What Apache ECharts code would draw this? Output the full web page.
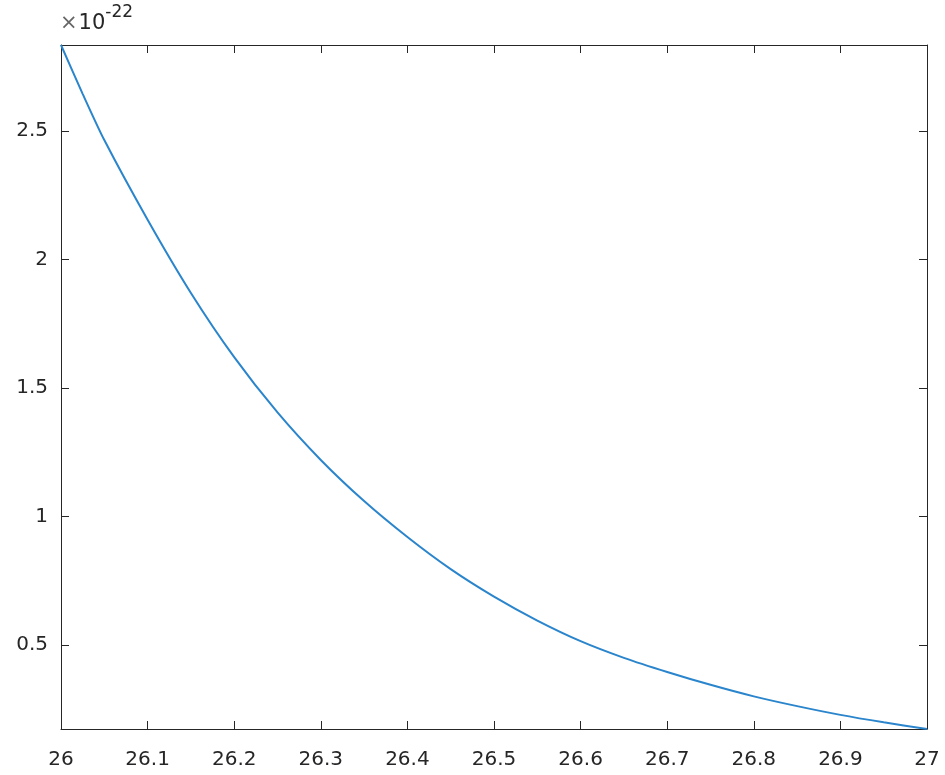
<!DOCTYPE html>
<html>
<head>
<meta charset="utf-8">
<script src="https://cdn.jsdelivr.net/npm/echarts@6/dist/echarts.min.js"></script>
<style>html,body{margin:0;padding:0;background:#fff;}#c{width:945px;height:775px;}</style>
</head>
<body>
<div id="c"></div>
<script>
// values in units of 1e-22
const xValues = [26.00, 26.025, 26.05, 26.10, 26.15, 26.20, 26.25, 26.30, 26.35, 26.40, 26.45, 26.50,
                 26.55, 26.60, 26.65, 26.70, 26.75, 26.80, 26.85, 26.90, 26.95, 27.00];
const yValues = [2.835, 2.645, 2.465, 2.155, 1.87, 1.62, 1.405, 1.22, 1.06, 0.92, 0.795, 0.688,
                 0.595, 0.515, 0.45, 0.395, 0.345, 0.300, 0.262, 0.228, 0.199, 0.173];
const xTicks = [26, 26.1, 26.2, 26.3, 26.4, 26.5, 26.6, 26.7, 26.8, 26.9, 27];
const yTicks = [0.5, 1, 1.5, 2, 2.5];
const yMin = 0.173, yMax = 2.835;
const exponentText = '-22';

const chart = echarts.init(document.getElementById('c'), null, {renderer: 'canvas'});
const axisColor = '#262626';
const font = 'DejaVu Sans';
const lineStyle = {color: axisColor, width: 1};

function xAxisDef(pos, showLabel) {
  return {
    type: 'value', position: pos, min: 26, max: 27,
    axisLine: {show: true, onZero: false, lineStyle},
    axisTick: {show: true, inside: true, length: 8, lineStyle, customValues: xTicks},
    axisLabel: {show: showLabel, customValues: xTicks, color: axisColor, fontFamily: font, fontSize: 20, margin: 21,
                formatter: v => String(Math.round(v * 10) / 10)},
    splitLine: {show: false}
  };
}
function yAxisDef(pos, showLabel) {
  return {
    type: 'value', position: pos, min: yMin, max: yMax,
    axisLine: {show: true, onZero: false, lineStyle},
    axisTick: {show: true, inside: true, length: 8, lineStyle, customValues: yTicks},
    axisLabel: {show: showLabel, customValues: yTicks, color: axisColor, fontFamily: font, fontSize: 20, margin: 13,
                formatter: v => String(v)},
    splitLine: {show: false}
  };
}

chart.setOption({
  backgroundColor: '#ffffff',
  animation: false,
  grid: {left: 61, right: 18, top: 45, bottom: 46},
  xAxis: [xAxisDef('bottom', true), xAxisDef('top', false)],
  yAxis: [yAxisDef('left', true), yAxisDef('right', false)],
  graphic: [{
    type: 'text', left: 60, top: 4,
    style: {
      rich: {
        a: {fontFamily: font, fontSize: 21, fill: '#666', padding: [13, 1, 0, 0]},
        b: {fontFamily: font, fontSize: 21, fill: axisColor, padding: [13, 0, 0, 0]},
        c: {fontFamily: font, fontSize: 17, fill: axisColor, padding: [0, 0, 9, 0]}
      },
      text: '{a|×}{b|10}{c|' + exponentText + '}'
    }
  }],
  series: [{
    type: 'line',
    xAxisIndex: 0, yAxisIndex: 0,
    data: xValues.map((x, i) => [x, yValues[i]]),
    smooth: 0.25,
    showSymbol: false,
    lineStyle: {color: '#2a85cc', width: 2},
    clip: false
  }]
});
</script>
</body>
</html>
